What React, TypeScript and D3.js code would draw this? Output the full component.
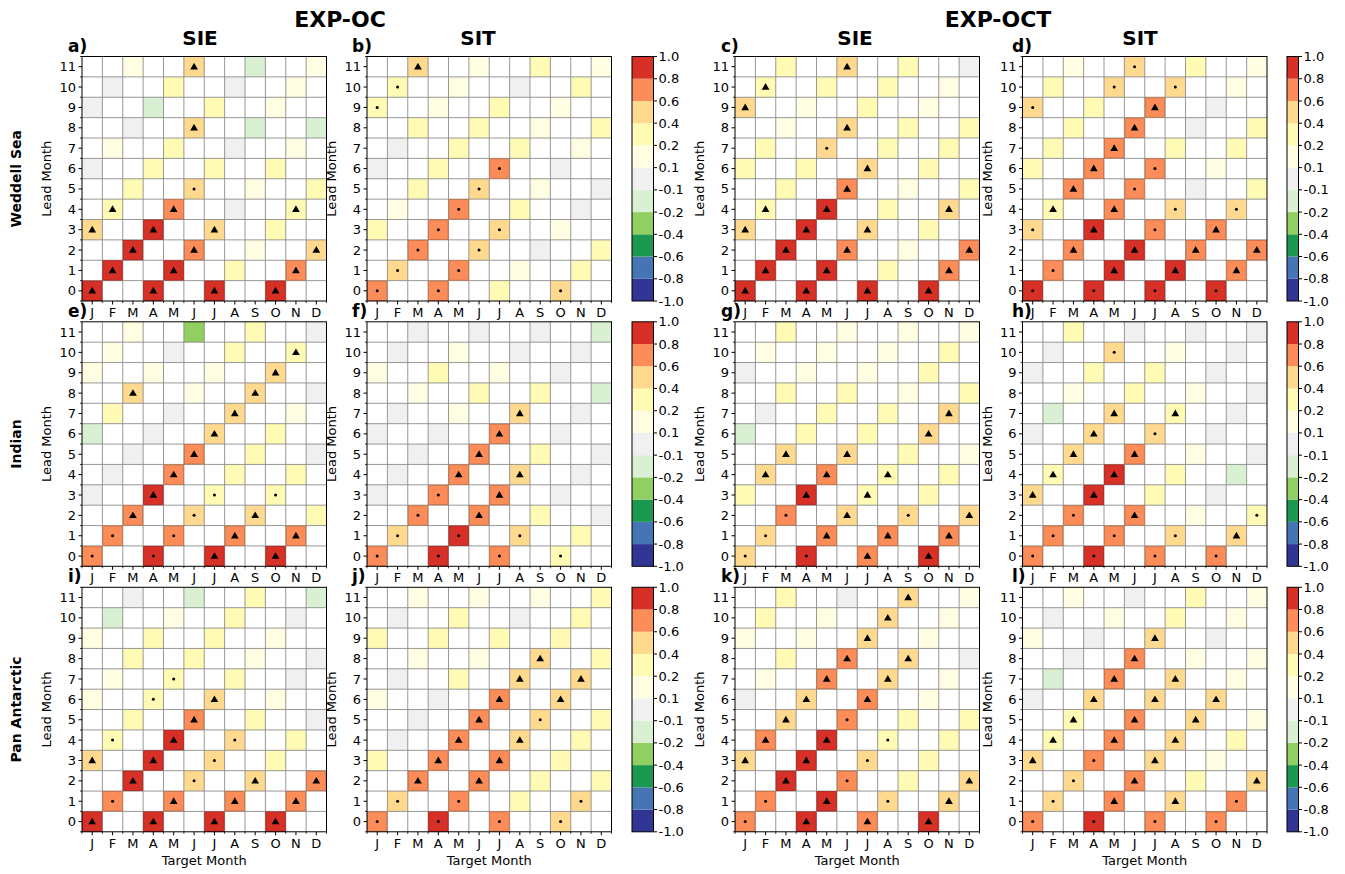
import React from "react";
import * as d3 from "d3";

const W = 1345;
const H = 874;
const FONT = "DejaVu Sans, sans-serif";

const months = ["J", "F", "M", "A", "M", "J", "J", "A", "S", "O", "N", "D"];
const leadTicks = [0, 1, 2, 3, 4, 5, 6, 7, 8, 9, 10, 11];
const cbBounds = [-1.0, -0.8, -0.6, -0.4, -0.2, -0.1, 0.1, 0.2, 0.4, 0.6, 0.8, 1.0];
const cbColors = [
  "#313695", "#4575b4", "#1a9850", "#91cf60", "#d9f0d3", "#f0f0f0",
  "#fffde2", "#fffab4", "#fed98e", "#fc8d59", "#d73027",
];
const expTitles = ["EXP-OC", "EXP-OCT"];
const varTitles = ["SIE", "SIT", "SIE", "SIT"];
const regions = ["Weddell Sea", "Indian", "Pan Antarctic"];
const panelLetters = ["a)", "b)", "c)", "d)", "e)", "f)", "g)", "h)", "i)", "j)", "k)", "l)"];

// each row = lead month 0..11, the 4 values are the target months col = lead%3 + 3k
// sig: t = triangle, d = dot, - = none
const aVal = [[0.9,0.9,0.9,0.9],[0.9,0.9,0.3,0.7],[0.9,0.7,0.15,0.5],[0.5,0.9,0.5,0.3],[0.3,0.7,0,0.3],[0.3,0.5,0.15,0.3],[0,0.3,0.3,0.3],[0.15,0.3,0,0.15],[0,0.5,-0.15,-0.15],[0,-0.15,0.3,0.15],[0,0.3,0,0.15],[0.15,0.5,-0.15,0.15]];
const aSig = ["tttt","tt-t","tt-t","ttt-","tt-t","-d--","----","----","-t--","----","----","-t--"];
const bVal = [[0.7,0.7,0.3,0.5],[0.5,0.7,0.15,0.3],[0.7,0.5,0,0.3],[0.3,0.7,0.5,0.15],[0.15,0.7,0.3,0],[0.3,0.5,0.15,0],[0,0.3,0.7,0],[0,0.3,0.3,0.15],[0.3,0.3,0.15,0.3],[0.3,0.15,0.3,0.15],[0.3,0.15,0,0.3],[0.5,0.15,0.3,0.15]];
const bSig = ["dd-d","dd--","dd--","-dd-","-d--","-d--","--d-","----","----","d---","d---","t---"];
const cVal = [[0.9,0.9,0.9,0.9],[0.9,0.9,0.3,0.7],[0.9,0.7,0.15,0.7],[0.5,0.9,0.5,0.3],[0.3,0.9,0.3,0.5],[0.3,0.7,0.15,0.3],[0.3,0.3,0.5,0.3],[0.3,0.5,0.3,0.3],[0.15,0.5,0.3,0.3],[0.5,0.15,0.3,0.15],[0.3,0.3,0.3,0.15],[0.3,0.5,0.3,0]];
const cSig = ["tttt","tt-t","tt-t","ttt-","tt-t","-t--","--t-","-d--","-t--","t---","t---","-t--"];
const dVal = [[0.9,0.9,0.9,0.9],[0.7,0.9,0.9,0.7],[0.7,0.9,0.7,0.7],[0.5,0.9,0.7,0.7],[0.3,0.7,0.5,0.5],[0.7,0.7,0,0.3],[0.3,0.7,0.7,0.15],[0.3,0.7,0.3,0.3],[0.3,0.7,0,0.3],[0.5,0.3,0.7,0],[0.3,0.5,0.5,0.15],[0.15,0.5,0.3,0.15]];
const dSig = ["dddd","dttt","tttt","dtdt","ttdd","td--","-td-","-t--","-t--","d-t-","-dd-","-d--"];
const eVal = [[0.7,0.9,0.9,0.9],[0.7,0.7,0.7,0.7],[0.7,0.5,0.5,0.3],[0,0.9,0.3,0.3],[0,0.7,0.3,0.3],[0,0.7,0.3,0],[-0.15,0,0.5,0.3],[0.3,0,0.5,0.15],[0.5,0.15,0.5,0],[0.15,0.15,0.15,0.5],[0.15,0,0.3,0.3],[0.15,-0.3,0.3,0]];
const eSig = ["ddtt","ddtt","tdt-","-tdd","-t--","-t--","--t-","--t-","t-t-","---t","---t","----"];
const fVal = [[0.7,0.9,0.7,0.3],[0.5,0.9,0.5,0.3],[0.7,0.7,0.3,0],[0,0.7,0.7,0],[0,0.7,0.5,0],[0,0.7,0.3,0],[0,0,0.7,0],[0,0.15,0.5,0],[0.15,0.3,0.3,-0.15],[0.15,0.3,0.15,0],[0,0.15,0,0],[0,0,0,-0.15]];
const fSig = ["dddd","ddd-","dt--","-dt-","-tt-","-t--","--t-","--t-","----","----","----","----"];
const gVal = [[0.5,0.9,0.7,0.9],[0.5,0.7,0.7,0.7],[0.7,0.5,0.5,0.5],[0.3,0.9,0.3,0.3],[0.5,0.7,0.3,0.3],[0.5,0.5,0.3,0.15],[-0.15,0.3,0.3,0.5],[0,0.3,0.3,0.5],[0.3,0.3,0.15,0.3],[0,0.15,0.15,0.3],[0.15,0.15,0.15,0.3],[0.3,0.15,0.15,0.15]];
const gSig = ["ddtt","dttt","dtdt","-tt-","ttt-","tt--","---t","---t","----","----","----","----"];
const hVal = [[0.7,0.9,0.7,0.7],[0.7,0.7,0.5,0.5],[0.7,0.7,0.15,0.3],[0.5,0.9,0.3,0],[0.3,0.9,0.3,-0.15],[0.5,0.7,0.15,0],[0,0.5,0.5,0],[-0.15,0.5,0.3,0],[0.15,0.3,0.15,0],[0,0.3,0.3,0],[0,0.5,0.15,0],[0.3,0,0,0]];
const hSig = ["dddd","dddt","dt-d","tt--","tt--","tt--","-td-","-tt-","----","----","-d--","----"];
const iVal = [[0.9,0.9,0.9,0.9],[0.7,0.7,0.7,0.7],[0.9,0.5,0.5,0.7],[0.5,0.9,0.5,0.3],[0.3,0.9,0.5,0.3],[0.3,0.7,0.3,0],[0.15,0.3,0.5,0.15],[0.15,0.3,0.3,0],[0.3,0.3,0.15,0],[0.15,0.3,0.3,0.15],[-0.15,0.15,0.3,0],[0,-0.15,0.3,-0.15]];
const iSig = ["tttt","dttt","tdtt","ttd-","dtd-","-t--","-dt-","-d--","----","----","----","----"];
const jVal = [[0.7,0.9,0.7,0.5],[0.5,0.7,0.3,0.5],[0.7,0.7,0.3,0.3],[0.3,0.7,0.7,0.3],[0,0.7,0.5,0.3],[0,0.7,0.5,0.3],[0.15,0,0.7,0.5],[0,0.3,0.5,0.5],[0.15,0.15,0.5,0.3],[0.3,0.3,0.3,0.3],[0,0.3,0,0.3],[0.15,0.15,0.15,0.3]];
const jSig = ["dddd","dd-d","tt--","-tt-","-tt-","-td-","--tt","--tt","--t-","----","----","----"];
const kVal = [[0.7,0.9,0.7,0.9],[0.7,0.9,0.5,0.5],[0.9,0.7,0.3,0.5],[0.5,0.9,0.5,0.3],[0.7,0.9,0.3,0.3],[0.5,0.7,0.3,0.3],[0,0.5,0.7,0.15],[0.15,0.7,0.5,0.15],[0.3,0.7,0.5,0],[0.15,0.15,0.5,0.15],[0.3,0.15,0.5,0.15],[0.3,0,0.5,0.15]];
const kSig = ["dttt","dtdt","td-t","ttd-","ttd-","td--","-tt-","-tt-","-tt-","--t-","--t-","--t-"];
const lVal = [[0.7,0.9,0.7,0.7],[0.5,0.7,0.5,0.7],[0.5,0.7,0.3,0.5],[0.5,0.7,0.5,0.15],[0.3,0.7,0.5,0.3],[0.3,0.7,0.5,0.15],[0,0.5,0.5,0.5],[-0.15,0.7,0.5,0.15],[0,0.7,0.15,0.15],[0.15,0,0.5,0],[0,0.15,0.3,0.15],[0.15,0,0.3,0.15]];
const lSig = ["dddd","dttd","dt-t","tdt-","ttt-","ttt-","-ttt","-tt-","-t--","--t-","----","----"];

const panelVals = [aVal, bVal, cVal, dVal, eVal, fVal, gVal, hVal, iVal, jVal, kVal, lVal];
const panelSigs = [aSig, bSig, cSig, dSig, eSig, fSig, gSig, hSig, iSig, jSig, kSig, lSig];

// layout
const PX = [82, 367, 735, 1022.5];
const PY = [56.5, 321.8, 587.3];
const S = 244.5;
const labelX = [68, 352, 721, 1012];
const headX = [200, 478, 855, 1140];
const cbX = [632, 1287];
const cbW = [21.5, 11.5];

const color = d3.scaleThreshold<number, string>()
  .domain(cbBounds.slice(1, -1))
  .range(cbColors);

const triangle = d3.symbol().type(d3.symbolTriangle).size(26)();

const Panel = ({ x, y, vals, sigs, letter, lx, bottom }) => {
  const xs = d3.scaleBand<number>().domain(d3.range(12)).range([x, x + S]);
  const ys = d3.scaleBand<number>().domain(leadTicks).range([y + S, y]);
  const bw = xs.bandwidth();
  const cells = [];
  vals.forEach((row, r) => {
    row.forEach((v, k) => {
      const c = (r % 3) + 3 * k;
      cells.push({ r, c, v, s: sigs[r][k] });
    });
  });
  return (
    <g>
      <rect x={x} y={y} width={S} height={S} fill="white" />
      {cells.map((d, i) => (
        <rect key={i} x={xs(d.c)} y={ys(d.r)} width={bw} height={bw} fill={color(d.v)} />
      ))}
      {d3.range(1, 12).map((i) => (
        <g key={i}>
          <line x1={x + i * bw} x2={x + i * bw} y1={y} y2={y + S} stroke="#8c8c8c" strokeWidth={0.9} />
          <line x1={x} x2={x + S} y1={y + i * bw} y2={y + i * bw} stroke="#8c8c8c" strokeWidth={0.9} />
        </g>
      ))}
      {cells.map((d, i) => (
        d.v >= 0.6 || d.v <= -0.6 ? (
          <rect key={"e" + i} x={xs(d.c) + 0.5} y={ys(d.r) + 0.5} width={bw - 1} height={bw - 1}
            fill="none" stroke={d3.color(color(d.v)).darker(0.6).formatHex()} strokeWidth={0.8} />
        ) : null
      ))}
      {cells.map((d, i) => {
        const cx = xs(d.c) + bw / 2;
        const cy = ys(d.r) + bw / 2;
        if (d.s === "t") return <path key={"m" + i} d={triangle} transform={`translate(${cx},${cy + 0.5})`} fill="black" />;
        if (d.s === "d") return <circle key={"m" + i} cx={cx} cy={cy} r={1.5} fill="black" />;
        return null;
      })}
      <rect x={x} y={y} width={S} height={S} fill="none" stroke="black" strokeWidth={1} />
      {leadTicks.map((t) => (
        <g key={t}>
          <line x1={x - 3.5} x2={x} y1={ys(t) + bw / 2} y2={ys(t) + bw / 2} stroke="black" />
          <text x={x - 6} y={ys(t) + bw / 2} dy="0.35em" textAnchor="end" fontSize={13} fontFamily={FONT}>{t}</text>
        </g>
      ))}
      {d3.range(13).map((i) => (
        <g key={"mn" + i}>
          <line x1={x - 2} x2={x} y1={y + i * bw} y2={y + i * bw} stroke="black" strokeWidth={0.8} />
          <line x1={x + i * bw} x2={x + i * bw} y1={y + S} y2={y + S + 2} stroke="black" strokeWidth={0.8} />
        </g>
      ))}
      {months.map((m, i) => (
        <g key={"x" + i}>
          <line x1={xs(i) + bw / 2} x2={xs(i) + bw / 2} y1={y + S} y2={y + S + 3.5} stroke="black" />
          <text x={xs(i) + bw / 2} y={y + S + 16} textAnchor="middle" fontSize={13} fontFamily={FONT}>{m}</text>
        </g>
      ))}
      <text transform={`translate(${x - 31},${y + S / 2}) rotate(-90)`} textAnchor="middle" fontSize={13} fontFamily={FONT}>Lead Month</text>
      {bottom && (
        <text x={x + S / 2} y={y + S + 33} textAnchor="middle" fontSize={13} fontFamily={FONT}>Target Month</text>
      )}
      <text x={lx} y={y - 5} fontSize={17} fontWeight="bold" fontFamily={FONT}>{letter}</text>
    </g>
  );
};

const Colorbar = ({ x, y, w }) => {
  const ys = d3.scaleLinear().domain([0, cbBounds.length - 1]).range([y + S, y]);
  return (
    <g>
      {cbColors.map((c, i) => (
        <rect key={i} x={x} y={ys(i + 1)} width={w} height={ys(i) - ys(i + 1)} fill={c} />
      ))}
      <rect x={x} y={y} width={w} height={S} fill="none" stroke="black" strokeWidth={1} />
      {cbBounds.map((b, i) => (
        <g key={"t" + i}>
          <line x1={x + w} x2={x + w + 3.5} y1={ys(i)} y2={ys(i)} stroke="black" />
          <text x={x + w + 5} y={ys(i)} dy="0.35em" fontSize={13} fontFamily={FONT}>{b.toFixed(1)}</text>
        </g>
      ))}
    </g>
  );
};

export default function App() {
  return (
    <svg width={W} height={H} style={{ position: "absolute", left: 0, top: 0, background: "white" }}>
      <text x={340} y={27} textAnchor="middle" fontSize={22} fontWeight="bold" fontFamily={FONT}>{expTitles[0]}</text>
      <text x={998} y={27} textAnchor="middle" fontSize={22} fontWeight="bold" fontFamily={FONT}>{expTitles[1]}</text>
      {varTitles.map((t, i) => (
        <text key={i} x={headX[i]} y={45} textAnchor="middle" fontSize={20} fontWeight="bold" fontFamily={FONT}>{t}</text>
      ))}
      {regions.map((r, i) => (
        <text key={r} transform={`translate(21,${PY[i] + S / 2}) rotate(-90)`} textAnchor="middle" fontSize={14} fontWeight="bold" fontFamily={FONT}>{r}</text>
      ))}
      {PY.map((py, ri) => PX.map((px, ci) => {
        const idx = ri * 4 + ci;
        return (
          <Panel key={idx} x={px} y={py} vals={panelVals[idx]} sigs={panelSigs[idx]}
            letter={panelLetters[idx]} lx={labelX[ci]} bottom={ri === 2} />
        );
      }))}
      {PY.map((py, ri) => cbX.map((cx, k) => (
        <Colorbar key={ri + "-" + k} x={cx} y={py} w={cbW[k]} />
      )))}
    </svg>
  );
}
